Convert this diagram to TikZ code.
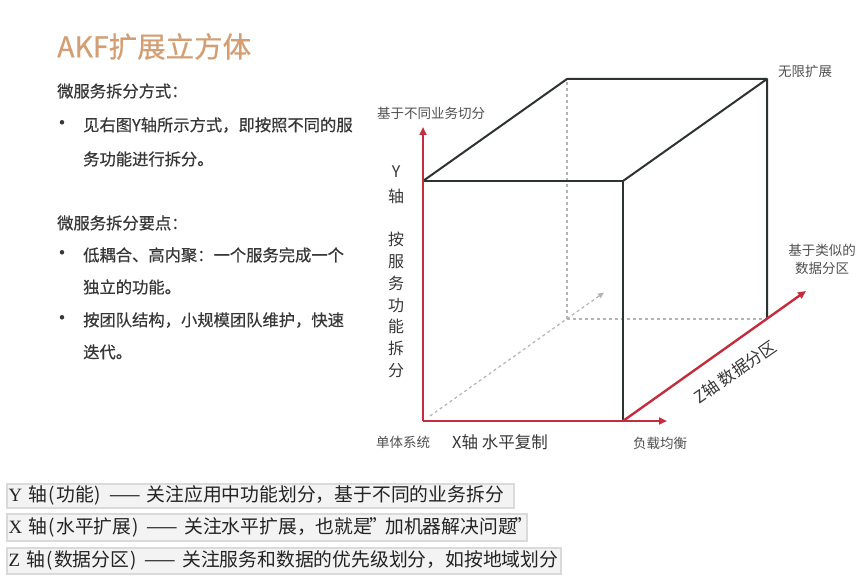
\documentclass[tikz,border=0pt]{standalone}
\usepackage{fontspec}
\usepackage{graphicx}
\setmainfont{Noto Sans CJK SC}
\newfontfamily\bodyf{Noto Sans CJK SC}[FakeBold=0.5]
\newfontfamily\latf{Liberation Serif}
\usetikzlibrary{arrows.meta}
\definecolor{axred}{RGB}{196,45,62}
\definecolor{cubeln}{RGB}{45,50,50}
\definecolor{dashgray}{RGB}{180,180,180}
\definecolor{titlec}{RGB}{212,158,114}
\definecolor{txtc}{RGB}{55,55,55}
\definecolor{lblc}{RGB}{80,80,80}
\definecolor{boxfill}{RGB}{243,243,243}
\definecolor{boxline}{RGB}{218,218,218}
\definecolor{boxtxt}{RGB}{35,35,35}
\newcommand\dashx{——}
\newcommand\qmark{\makebox[13pt][c]{”}}
\tikzset{
  cubeedge/.style={draw=cubeln, line width=2pt, line join=round},
  hidden/.style={draw=dashgray, line width=1.2pt, dash pattern=on 3pt off 3pt},
  axis/.style={draw=axred, line width=2.4pt, -{Triangle[length=8pt,width=7pt]}},
  bodytxt/.style={anchor=west, inner sep=0pt, text=txtc, font=\bodyf\fontsize{16.3}{20}\selectfont},
  bulletst/.style={anchor=center, inner sep=0pt, text=txtc, font=\bodyf\fontsize{20}{20}\selectfont},
  smalllbl/.style={inner sep=0pt, text=lblc, font=\fontsize{13.5}{18}\selectfont},
  axislbl/.style={inner sep=0pt, text=txtc, font=\fontsize{16.5}{20}\selectfont},
  infobox/.style={draw=boxline, fill=boxfill, line width=1.5pt, anchor=north west,
    inner xsep=2pt, inner ysep=0pt, align=left, text=boxtxt,
    font=\fontsize{18.8}{22}\selectfont},
}
\begin{document}
\begin{tikzpicture}[x=1pt,y=-1pt]
\useasboundingbox[fill=white] (0,0) rectangle (864,588);

% title and left text
\node[anchor=west, inner sep=0pt, text=titlec, font=\bodyf\fontsize{28.5}{32}\selectfont] (title) at (57,46.5) {AKF扩展立方体};
\node[bodytxt] (h1) at (57,91) {微服务拆分方式：};
\node[bulletst] (b1) at (62,125) {•};
\node[bodytxt] (t1a) at (83,125) {见右图Y轴所示方式，即按照不同的服};
\node[bodytxt] (t1b) at (83,159) {务功能进行拆分。};
\node[bodytxt] (h2) at (57,223) {微服务拆分要点：};
\node[bulletst] (b2) at (62,255) {•};
\node[bodytxt] (t2a) at (83,255) {低耦合、高内聚：一个服务完成一个};
\node[bodytxt] (t2b) at (83,287) {独立的功能。};
\node[bulletst] (b3) at (62,320) {•};
\node[bodytxt] (t3a) at (83,320) {按团队结构，小规模团队维护，快速};
\node[bodytxt] (t3b) at (83,352) {迭代。};

% cube corners
\coordinate (fbl) at (423,421);
\coordinate (fbr) at (623,421);
\coordinate (ftl) at (423,181);
\coordinate (ftr) at (623,181);
\coordinate (bbl) at (567,319);
\coordinate (bbr) at (767,319);
\coordinate (btl) at (567,79);
\coordinate (btr) at (767,79);
\coordinate (ytip) at (423,127);
\coordinate (xtip) at (667,421);
\coordinate (ztip) at (806,291);
\coordinate (dstart) at (430,416);
\coordinate (dtip) at (604,292.5);

% hidden edges
\draw[hidden] (bbl) -- (btl);
\draw[hidden] (bbl) -- (bbr);
\draw[hidden, -{Triangle[length=6pt,width=5pt]}] (dstart) -- (dtip);

% visible edges
\draw[cubeedge] (ftl) -- (ftr) -- (fbr);
\draw[cubeedge] (ftl) -- (btl) -- (btr) -- (bbr);
\draw[cubeedge] (ftr) -- (btr);

% axes
\draw[axis] (fbl) -- (ytip);
\draw[axis] (fbl) -- (xtip);
\draw[axis] (fbr) -- (ztip);

% axis labels
\node[smalllbl] (ylbltop) at (431,113) {基于不同业务切分};
\node[smalllbl] (inf) at (805,71) {无限扩展};
\node[smalllbl, align=center, font=\fontsize{13.5}{18}\selectfont] (zlbltop) at (822,259) {基于类似的\\数据分区};
\node[smalllbl] (lb) at (660,443) {负载均衡};
\node[smalllbl] (mono) at (403,442) {单体系统};
\node[axislbl] (xname) at (500,442) {X轴 水平复制};
\node[axislbl, rotate=35] (zname) at (735,372) {Z轴 数据分区};
\node[axislbl, align=center, font=\fontsize{16}{25}\selectfont] (yname1) at (396,185) {Y\\轴};
\node[axislbl, align=center, font=\fontsize{16}{21.7}\selectfont] (yname2) at (396,305) {按\\服\\务\\功\\能\\拆\\分};

% bottom boxes
\node[infobox, minimum width=507pt, minimum height=24pt, text width=503pt] (box1) at (6,483)
  {{\latf Y} 轴\hspace{1.5pt}(\hspace{1pt}功能\hspace{1pt})\hspace{8pt}\dashx\hspace{6pt}关注应用中功能划分，基于不同的业务拆分};
\node[infobox, minimum width=520pt, minimum height=27pt, text width=516pt] (box2) at (6,513)
  {{\latf X} 轴\hspace{1.5pt}(\hspace{1pt}水平扩展\hspace{1pt})\hspace{8pt}\dashx\hspace{6pt}关注水平扩展，也就是\qmark 加机器解决问题\qmark};
\node[infobox, minimum width=554pt, minimum height=26pt, text width=550pt] (box3) at (6,547)
  {{\latf Z} 轴\hspace{1.5pt}(\hspace{1pt}数据分区\hspace{1pt})\hspace{8pt}\dashx\hspace{6pt}关注服务和数据的优先级划分，如按地域划分};
\end{tikzpicture}
\end{document}
